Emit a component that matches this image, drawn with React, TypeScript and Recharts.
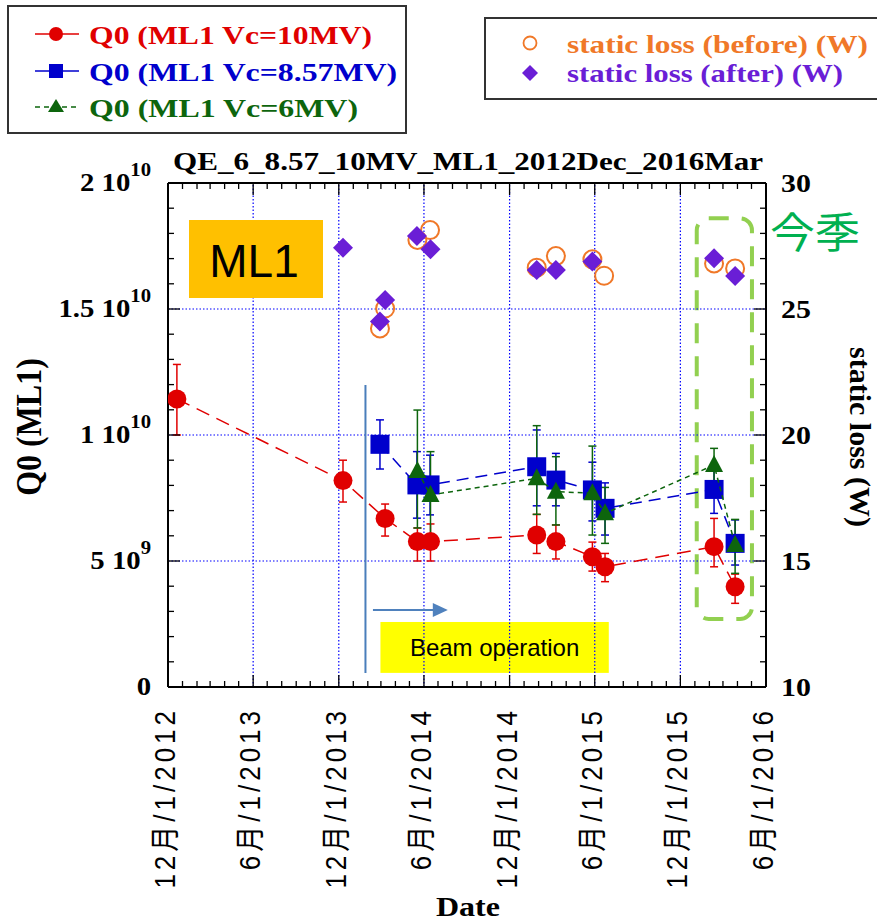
import React from 'react';
import {
  ComposedChart,
  Scatter,
  XAxis,
  YAxis,
  ErrorBar,
  ReferenceLine,
  ReferenceArea,
  ReferenceDot,
} from 'recharts';

const WIDTH = 877;
const HEIGHT = 923;
const MARGIN = { top: 183, right: 51, bottom: 206, left: 108 };

const SERIF = '"Liberation Serif", "Times New Roman", serif';
const SANS = '"Liberation Sans", Arial, "Noto Sans CJK JP", sans-serif';
const CJK = '"Noto Sans CJK JP", "Noto Sans CJK SC", sans-serif';
// lettering in this plot is a bit wider than the stock fonts
const STRETCH = 1.15;

const RED = '#e00000';
const BLUE = '#0000cc';
const GREEN = '#0d650d';
const ORANGE = '#f07828';
const PURPLE = '#6a1ed6';
const GRID = '#0000ff';

const toDay = (s: string) => Date.parse(s + 'T00:00:00Z');

// Q0 at Vc = 10 MV, in units of 1e9, with error bar ends
const q10Dates = ['2012-12-20', '2013-12-10', '2014-03-10', '2014-05-18', '2014-06-15', '2015-01-28', '2015-03-10', '2015-05-27', '2015-06-23', '2016-02-11', '2016-03-27'];
const q10Values = [11.43, 8.19, 6.69, 5.77, 5.77, 6.03, 5.77, 5.17, 4.77, 5.57, 3.98];
const q10Low = [10.0, 7.34, 5.99, 5.0, 5.0, 5.3, 5.08, 4.6, 4.18, 4.77, 3.32];
const q10High = [12.8, 9.0, 7.26, 6.31, 6.47, 6.85, 6.43, 5.75, 5.3, 6.69, 4.48];

// Q0 at Vc = 8.57 MV
const q857Dates = ['2014-02-27', '2014-05-17', '2014-06-14', '2015-01-28', '2015-03-10', '2015-05-27', '2015-06-23', '2016-02-11', '2016-03-27'];
const q857Values = [9.63, 8.02, 8.02, 8.74, 8.21, 7.82, 7.09, 7.84, 5.7];
const q857Low = [8.65, 6.7, 6.83, 7.19, 7.19, 6.59, 6.03, 6.89, 4.84];
const q857High = [10.6, 9.34, 9.2, 10.2, 9.27, 8.92, 8.1, 8.8, 6.63];

// Q0 at Vc = 6 MV
const q6Dates = ['2014-05-18', '2014-06-15', '2015-01-28', '2015-03-10', '2015-05-27', '2015-06-23', '2016-02-11', '2016-03-27'];
const q6Values = [8.57, 7.62, 8.28, 7.75, 7.69, 6.89, 8.81, 5.63];
const q6Low = [6.31, 5.6, 6.85, 6.43, 6.03, 5.7, 8.0, 4.51];
const q6High = [10.99, 9.34, 10.37, 9.14, 9.56, 7.92, 9.47, 6.65];

// static loss (W), right axis
const lossBeforeDates = ['2014-02-27', '2014-03-10', '2014-05-18', '2014-06-14', '2015-01-28', '2015-03-10', '2015-05-27', '2015-06-21', '2016-02-11', '2016-03-27'];
const lossBeforeValues = [24.23, 25.02, 27.74, 28.13, 26.64, 27.1, 26.97, 26.32, 26.81, 26.61];
const lossAfterDates = ['2013-12-10', '2014-02-27', '2014-03-10', '2014-05-17', '2014-06-15', '2015-01-28', '2015-03-10', '2015-05-27', '2016-02-11', '2016-03-27'];
const lossAfterValues = [27.43, 24.5, 25.36, 27.9, 27.37, 26.55, 26.55, 26.88, 27.01, 26.31];

// axis ticks
const xTickDates = ['2012-12-01', '2013-06-01', '2013-12-01', '2014-06-01', '2014-12-01', '2015-06-01', '2015-12-01', '2016-06-01'];
const xTickLabels = ['12月/1/2012', '6月/1/2013', '12月/1/2013', '6月/1/2014', '12月/1/2014', '6月/1/2015', '12月/1/2015', '6月/1/2016'];
const qTickValues = [0, 5e9, 1e10, 1.5e10, 2e10];
const qTickBase = ['0', '5 10', '1 10', '1.5 10', '2 10'];
const qTickExp = ['', '9', '10', '10', '10'];
const wTickValues = [10, 15, 20, 25, 30];

const xMajor = xTickDates.map(toDay);
const xStart = xMajor[0];
const xEnd = xMajor[xMajor.length - 1];
const monthTicks: number[] = [];
for (let m = 0; m <= 42; m++) monthTicks.push(Date.UTC(2012, 11 + m, 1));
const qMinor: number[] = [];
for (let i = 0; i <= 20; i++) qMinor.push(i * 1e9);
const wMinor: number[] = [];
for (let i = 10; i <= 30; i++) wMinor.push(i);

function qRows(dates: string[], values: number[], low: number[], high: number[]) {
  return dates.map((d, i) => ({
    t: toDay(d),
    q: values[i] * 1e9,
    err: [(values[i] - low[i]) * 1e9, (high[i] - values[i]) * 1e9],
  }));
}
function wRows(dates: string[], values: number[]) {
  return dates.map((d, i) => ({ t: toDay(d), w: values[i] }));
}

const q10Data = qRows(q10Dates, q10Values, q10Low, q10High);
const q857Data = qRows(q857Dates, q857Values, q857Low, q857High);
const q6Data = qRows(q6Dates, q6Values, q6Low, q6High);
const lossBeforeData = wRows(lossBeforeDates, lossBeforeValues);
const lossAfterData = wRows(lossAfterDates, lossAfterValues);

const TICK_MAJOR = 12;
const TICK_MINOR = 6;

function XTick(props: any) {
  const { x, y, payload } = props;
  const idx = xMajor.indexOf(payload.value);
  const len = idx >= 0 ? TICK_MAJOR : TICK_MINOR;
  return (
    <g>
      <line x1={x} y1={y} x2={x} y2={y - len} stroke="#000" strokeWidth={1.3} />
      <line x1={x} y1={MARGIN.top} x2={x} y2={MARGIN.top + len} stroke="#000" strokeWidth={1.3} />
      {idx >= 0 && (
        <g transform={`translate(${x + 7},${y + 20}) scale(${STRETCH},1) rotate(-90)`}>
          <text textAnchor="end" fontFamily={SANS} fontSize={26} letterSpacing={4} fill="#000">
            {xTickLabels[idx]}
          </text>
        </g>
      )}
    </g>
  );
}

function QTick(props: any) {
  const { x, y, payload } = props;
  const idx = qTickValues.indexOf(payload.value);
  const len = idx >= 0 ? TICK_MAJOR : TICK_MINOR;
  return (
    <g>
      <line x1={x} y1={y} x2={x + len} y2={y} stroke="#000" strokeWidth={1.3} />
      {idx >= 0 && (
        <g transform={`translate(${x - 17},${y + 8}) scale(${STRETCH},1)`}>
          <text textAnchor="end" fontFamily={SERIF} fontWeight="bold" fontSize={25} fill="#000">
            <tspan>{qTickBase[idx]}</tspan>
            {qTickExp[idx] && (
              <tspan dy={-15} fontSize={18}>
                {qTickExp[idx]}
              </tspan>
            )}
          </text>
        </g>
      )}
    </g>
  );
}

function WTick(props: any) {
  const { x, y, payload } = props;
  const major = wTickValues.includes(payload.value);
  const len = major ? TICK_MAJOR : TICK_MINOR;
  return (
    <g>
      <line x1={x} y1={y} x2={x - len} y2={y} stroke="#000" strokeWidth={1.3} />
      {major && (
        <g transform={`translate(${x + 15},${y + 9}) scale(${STRETCH},1)`}>
          <text fontFamily={SERIF} fontWeight="bold" fontSize={26} fill="#000">
            {payload.value}
          </text>
        </g>
      )}
    </g>
  );
}

const dot = (p: any) => <circle cx={p.cx} cy={p.cy} r={9.5} fill={RED} />;
const square = (p: any) => <rect x={p.cx - 9.5} y={p.cy - 9.5} width={19} height={19} fill={BLUE} />;
const triangle = (p: any) => (
  <polygon points={`${p.cx},${p.cy - 10} ${p.cx - 9},${p.cy + 7} ${p.cx + 9},${p.cy + 7}`} fill={GREEN} />
);
const ring = (p: any) => <circle cx={p.cx} cy={p.cy} r={9} fill="none" stroke={ORANGE} strokeWidth={2} />;
const diamond = (p: any) => (
  <polygon
    points={`${p.cx},${p.cy - 10} ${p.cx + 10},${p.cy} ${p.cx},${p.cy + 10} ${p.cx - 10},${p.cy}`}
    fill={PURPLE}
  />
);

function BeamBox(p: any) {
  return (
    <g>
      <rect x={p.x} y={p.y} width={p.width} height={p.height} fill="#ffff00" />
      <text
        x={p.x + p.width / 2}
        y={p.y + p.height / 2 + 9}
        textAnchor="middle"
        fontFamily={SANS}
        fontSize={24}
        fill="#000"
      >
        Beam operation
      </text>
    </g>
  );
}

function SeasonBox(p: any) {
  return (
    <rect
      x={p.x}
      y={p.y}
      width={p.width}
      height={p.height}
      rx={12}
      fill="none"
      stroke="#92d050"
      strokeWidth={4}
      strokeDasharray="20 13"
    />
  );
}

const arrowHead = (p: any) => (
  <polygon points={`${p.cx},${p.cy} ${p.cx - 15},${p.cy - 7} ${p.cx - 15},${p.cy + 7}`} fill="#4f81bd" />
);

function Overlay() {
  const legendRow = (y: number, label: string, color: string, len: number, marker: React.ReactNode, dash?: string) => (
    <g>
      <line x1={35} y1={y} x2={79} y2={y} stroke={color} strokeWidth={1.5} strokeDasharray={dash} />
      {marker}
      <text
        x={89}
        y={y + 10}
        fontFamily={SERIF}
        fontWeight="bold"
        fontSize={26}
        fill={color}
        textLength={len}
        lengthAdjust="spacingAndGlyphs"
      >
        {label}
      </text>
    </g>
  );
  return (
    <svg
      width={WIDTH}
      height={HEIGHT}
      style={{ position: 'absolute', left: 0, top: 0, pointerEvents: 'none' }}
    >
      {/* series legend */}
      <rect x={8} y={6} width={398} height={127} fill="none" stroke="#333" strokeWidth={2} />
      {legendRow(34, 'Q0 (ML1 Vc=10MV)', RED, 283, <circle cx={56} cy={34} r={7} fill={RED} />)}
      {legendRow(71, 'Q0 (ML1 Vc=8.57MV)', BLUE, 308, <rect x={49} y={64} width={14} height={14} fill={BLUE} />)}
      {legendRow(
        107,
        'Q0 (ML1 Vc=6MV)',
        GREEN,
        269,
        <polygon points="56,99 48,112 64,112" fill={GREEN} />,
        '5 4',
      )}

      {/* static loss legend */}
      <rect x={485} y={18} width={400} height={81} fill="none" stroke="#333" strokeWidth={2} />
      <circle cx={530} cy={43} r={6.5} fill="none" stroke={ORANGE} strokeWidth={1.8} />
      <text x={567} y={53} fontFamily={SERIF} fontWeight="bold" fontSize={26} fill={ORANGE} textLength={301} lengthAdjust="spacingAndGlyphs">
        static loss (before) (W)
      </text>
      <polygon points="530,65 538,73 530,81 522,73" fill={PURPLE} />
      <text x={567} y={82} fontFamily={SERIF} fontWeight="bold" fontSize={26} fill={PURPLE} textLength={276} lengthAdjust="spacingAndGlyphs">
        static loss (after) (W)
      </text>

      {/* title */}
      <text x={468} y={170} textAnchor="middle" fontFamily={SERIF} fontWeight="bold" fontSize={26} textLength={590} lengthAdjust="spacingAndGlyphs">
        QE_6_8.57_10MV_ML1_2012Dec_2016Mar
      </text>

      {/* axis titles */}
      <g transform={`translate(41,427) scale(${STRETCH},1) rotate(-90)`}>
        <text textAnchor="middle" fontFamily={SERIF} fontWeight="bold" fontSize={32}>
          Q0 (ML1)
        </text>
      </g>
      <g transform={`translate(850,437) scale(1.05,1) rotate(90)`}>
        <text textAnchor="middle" fontFamily={SERIF} fontWeight="bold" fontSize={28} textLength={180} lengthAdjust="spacingAndGlyphs">
          static loss (W)
        </text>
      </g>
      <text x={468} y={916} textAnchor="middle" fontFamily={SERIF} fontWeight="bold" fontSize={28} textLength={64} lengthAdjust="spacingAndGlyphs">
        Date
      </text>

      {/* cavity label and season mark */}
      <rect x={189} y={220} width={134} height={78} fill="#ffc000" />
      <text x={254} y={277} textAnchor="middle" fontFamily={SANS} fontSize={46} fill="#000">
        ML1
      </text>
      <text x={770} y={248} fontFamily={CJK} fontSize={42} fill="#00b050" textLength={90} lengthAdjust="spacingAndGlyphs">
        今季
      </text>
    </svg>
  );
}

export default function App() {
  const axisLine = { stroke: '#000', strokeWidth: 2 };
  const gridStyle = { stroke: GRID, strokeWidth: 1.2, strokeDasharray: '1.5 2' };
  return (
    <div style={{ position: 'absolute', left: 0, top: 0, width: WIDTH, height: HEIGHT, background: '#fff' }}>
      <ComposedChart width={WIDTH} height={HEIGHT} margin={MARGIN}>
        <XAxis
          type="number"
          dataKey="t"
          domain={[xStart, xEnd]}
          ticks={monthTicks}
          interval={0}
          tick={(p: any) => <XTick {...p} />}
          tickLine={false}
          tickSize={0}
          tickMargin={0}
          height={30}
          axisLine={axisLine}
          allowDataOverflow
        />
        <YAxis
          yAxisId="q"
          type="number"
          dataKey="q"
          domain={[0, 2e10]}
          ticks={qMinor}
          interval={0}
          tick={(p: any) => <QTick {...p} />}
          tickLine={false}
          tickSize={0}
          tickMargin={0}
          width={60}
          axisLine={axisLine}
          allowDataOverflow
        />
        <YAxis
          yAxisId="w"
          orientation="right"
          type="number"
          dataKey="w"
          domain={[10, 30]}
          ticks={wMinor}
          interval={0}
          tick={(p: any) => <WTick {...p} />}
          tickLine={false}
          tickSize={0}
          tickMargin={0}
          width={60}
          axisLine={axisLine}
          allowDataOverflow
        />

        {xMajor.slice(1, -1).map((t) => (
          <ReferenceLine key={`gx${t}`} yAxisId="q" x={t} {...gridStyle} />
        ))}
        {qTickValues.slice(1, -1).map((v) => (
          <ReferenceLine key={`gy${v}`} yAxisId="q" y={v} {...gridStyle} />
        ))}
        <ReferenceLine yAxisId="q" y={2e10} stroke="#000" strokeWidth={2} />

        <ReferenceArea yAxisId="q" x1={toDay('2014-02-28')} x2={toDay('2015-07-01')} y1={0.56e9} y2={2.58e9} shape={BeamBox} />
        <ReferenceArea yAxisId="q" x1={toDay('2016-01-05')} x2={toDay('2016-05-02')} y1={2.7e9} y2={18.6e9} shape={SeasonBox} />
        <ReferenceLine
          yAxisId="q"
          segment={[
            { x: toDay('2014-01-27'), y: 0.56e9 },
            { x: toDay('2014-01-27'), y: 11.98e9 },
          ]}
          stroke="#4a7ebb"
          strokeWidth={2}
        />
        <ReferenceLine
          yAxisId="q"
          segment={[
            { x: toDay('2014-02-12'), y: 3.06e9 },
            { x: toDay('2014-06-25'), y: 3.06e9 },
          ]}
          stroke="#4f81bd"
          strokeWidth={2}
        />
        <ReferenceDot yAxisId="q" x={toDay('2014-07-22')} y={3.06e9} r={1} shape={arrowHead} />

        <Scatter
          yAxisId="q"
          data={q10Data}
          shape={dot}
          line={{ stroke: RED, strokeWidth: 1.5, strokeDasharray: '14 8' }}
          isAnimationActive={false}
        >
          <ErrorBar dataKey="err" direction="y" width={4} stroke={RED} strokeWidth={1.5} />
        </Scatter>
        <Scatter
          yAxisId="q"
          data={q857Data}
          shape={square}
          line={{ stroke: BLUE, strokeWidth: 1.5, strokeDasharray: '12 7' }}
          isAnimationActive={false}
        >
          <ErrorBar dataKey="err" direction="y" width={4} stroke={BLUE} strokeWidth={1.5} />
        </Scatter>
        <Scatter
          yAxisId="q"
          data={q6Data}
          shape={triangle}
          line={{ stroke: GREEN, strokeWidth: 1.5, strokeDasharray: '5 4' }}
          isAnimationActive={false}
        >
          <ErrorBar dataKey="err" direction="y" width={4} stroke={GREEN} strokeWidth={1.5} />
        </Scatter>
        <Scatter yAxisId="w" data={lossBeforeData} shape={ring} isAnimationActive={false} />
        <Scatter yAxisId="w" data={lossAfterData} shape={diamond} isAnimationActive={false} />
      </ComposedChart>
      <Overlay />
    </div>
  );
}
